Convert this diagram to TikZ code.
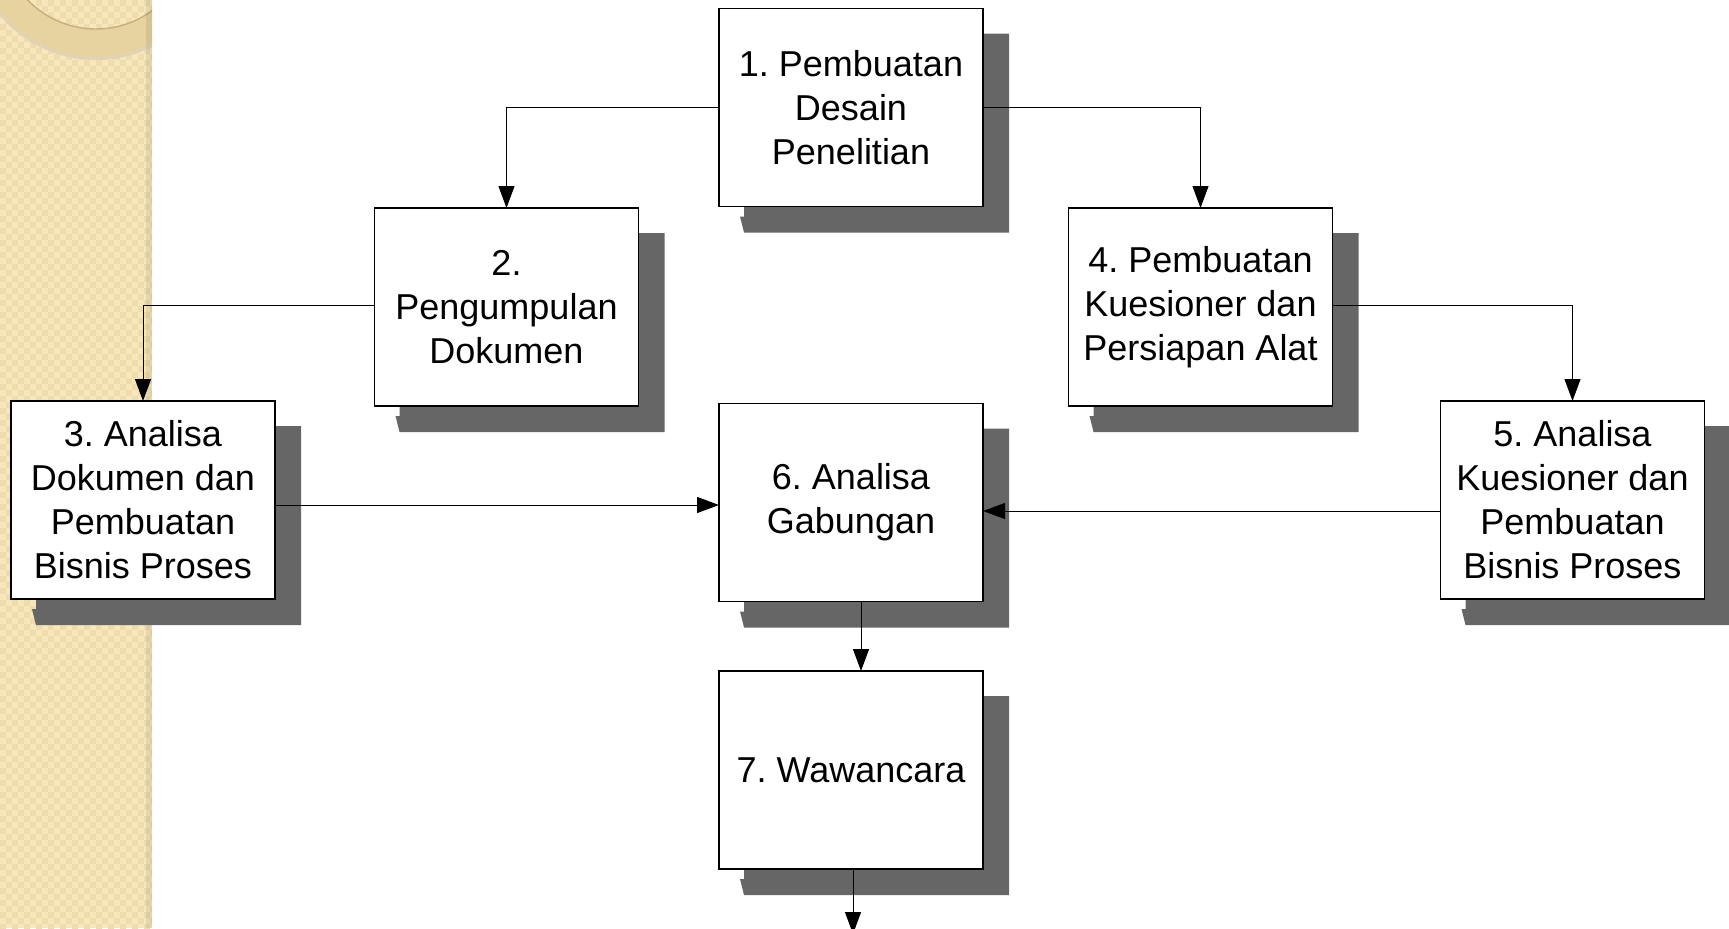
\documentclass[tikz,border=0pt]{standalone}
\usepackage{fontspec}
\setmainfont{Liberation Sans}
\frenchspacing
\usetikzlibrary{arrows.meta,backgrounds}
\definecolor{stripc}{HTML}{F7E7BA}
\definecolor{checkc}{HTML}{EEDCAE}
\definecolor{ringc}{HTML}{E6D39F}
\definecolor{ringedge}{HTML}{C7AF7C}
\definecolor{shadowc}{HTML}{666666}
\tikzset{
  stepbox/.style={draw=black, line width=0.6pt, fill=white, minimum width=132pt,
    minimum height=99pt, inner sep=0pt, outer sep=0pt, align=center,
    font=\fontsize{18}{22}\selectfont},
  conn/.style={draw=black, line width=0.5pt, -{Triangle[length=11pt,width=8pt]}},
}
\newcommand{\mydropshadow}[1]{%
  \fill[shadowc] ([shift={(25,25)}]#1.north west) -- ([shift={(26,25)}]#1.north east)
    -- ([shift={(26,26)}]#1.south east) -- ([shift={(25,26)}]#1.south west)
    -- ([shift={(21,10)}]#1.south west) -- ([shift={(25,10)}]#1.south west) -- cycle;}
\begin{document}
\begin{tikzpicture}[x=0.5pt,y=-0.5pt]
\useasboundingbox (0,0) rectangle (1729,928);
\clip (0,0) rectangle (1729,928);
\begin{scope}[on background layer]
  \fill[white] (0,0) rectangle (1729,928);
  \begin{scope}
    \clip (0,0) rectangle (152,928);
    \fill[stripc] (0,0) rectangle (152,928);
    \foreach \i in {0,...,12}{\foreach \j in {0,...,77}{
      \fill[checkc] (12*\i,12*\j) rectangle +(6,6);
      \fill[checkc] (12*\i+6,12*\j+6) rectangle +(6,6);}}
    \fill[ringedge!55, even odd rule] (96,-66) circle (63pt) (96,-66) circle (61.5pt);
    \fill[ringc, even odd rule] (96,-66) circle (61.5pt) (96,-66) circle (47.5pt);
    \draw[ringedge, line width=0.7pt] (96,-66) circle (47.5pt);
    \fill[black, opacity=0.07] (146,0) rectangle (152,928);
  \end{scope}
\end{scope}

\node[stepbox] (b1) at (851,107.5) {1. Pembuatan\\Desain\\Penelitian};
\node[stepbox] (b2) at (506.5,307) {2.\\Pengumpulan\\Dokumen};
\node[stepbox] (b3) at (143,500) {3. Analisa\\Dokumen dan\\Pembuatan\\Bisnis Proses};
\node[stepbox] (b4) at (1200.5,307) {4. Pembuatan\\Kuesioner dan\\Persiapan Alat};
\node[stepbox] (b5) at (1572.5,500) {5. Analisa\\Kuesioner dan\\Pembuatan\\Bisnis Proses};
\node[stepbox] (b6) at (851,502.5) {6. Analisa\\Gabungan};
\node[stepbox] (b7) at (851,770) {7. Wawancara};

\begin{scope}[on background layer]
  \mydropshadow{b1}
  \mydropshadow{b2}
  \mydropshadow{b3}
  \mydropshadow{b4}
  \mydropshadow{b5}
  \mydropshadow{b6}
  \mydropshadow{b7}
\end{scope}

\draw[conn] (b1.west) -| (b2.north);
\draw[conn] (b1.east) -| (b4.north);
\draw[conn] ([yshift=1pt]b2.west) -| (b3.north);
\draw[conn] ([yshift=1pt]b4.east) -| (b5.north);
\draw[conn] ([yshift=-2.5pt]b3.east) coordinate (a36) -- (a36 -| b6.west);
\draw[conn] ([yshift=-5.5pt]b5.west) coordinate (a56) -- (a56 -| b6.east);
\draw[conn] ([xshift=5pt]b6.south) coordinate (a67) -- (a67 |- b7.north);
\coordinate (outend) at (853,934);
\draw[conn] ([xshift=1pt]b7.south) -- (outend);
\end{tikzpicture}
\end{document}
